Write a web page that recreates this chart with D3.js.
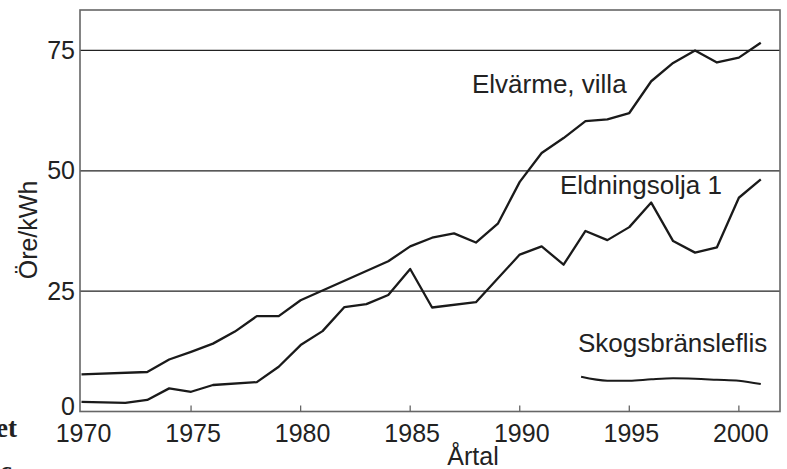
<!DOCTYPE html>
<html>
<head>
<meta charset="utf-8">
<script src="https://cdn.jsdelivr.net/npm/d3@7"></script>
<style>
  body { margin: 0; background: #fff; }
  svg text { font-family: "Liberation Sans", Arial, sans-serif; fill: #222; }
</style>
</head>
<body>
<div id="chart-area"></div>
<script>
// data (öre/kWh)
var elYears  = [1970, 1973, 1974, 1975, 1976, 1977, 1978, 1979, 1980, 1984, 1985, 1986, 1987, 1988, 1989, 1990, 1991, 1992, 1993, 1994, 1995, 1996, 1997, 1998, 1999, 2000, 2001];
var elValues = [7.7, 8.2, 10.8, 12.4, 14.1, 16.6, 19.8, 19.8, 23.1, 31.2, 34.3, 36.1, 37.0, 35.1, 39.0, 47.7, 53.7, 56.8, 60.3, 60.7, 62.0, 68.6, 72.4, 75.0, 72.5, 73.5, 76.6];

var oilYears  = [1970, 1972, 1973, 1974, 1975, 1976, 1978, 1979, 1980, 1981, 1982, 1983, 1984, 1985, 1986, 1988, 1990, 1991, 1992, 1993, 1994, 1995, 1996, 1997, 1998, 1999, 2000, 2001];
var oilValues = [2.0, 1.8, 2.4, 4.8, 4.1, 5.5, 6.1, 9.3, 13.8, 16.7, 21.7, 22.3, 24.2, 29.6, 21.6, 22.7, 32.6, 34.3, 30.5, 37.5, 35.6, 38.3, 43.4, 35.4, 33.0, 34.1, 44.4, 48.2];

var chipYears  = [1992.8, 1994, 1995, 1996, 1997, 1998, 1999, 2000, 2001];
var chipValues = [7.2, 6.4, 6.4, 6.7, 6.9, 6.8, 6.6, 6.4, 5.7];

var xTicks = [1970, 1975, 1980, 1985, 1990, 1995, 2000];
var yTicks = [0, 25, 50, 75];

var seriesNames = ["Elvärme, villa", "Eldningsolja 1", "Skogsbränsleflis"];

var W = 787, H = 469;
var plotL = 80, plotR = 780, plotT = 10, plotB = 411.5;

var svg = d3.select("#chart-area").append("svg")
  .attr("width", W)
  .attr("height", H);

var x = d3.scaleLinear().domain([1970, 2001.9]).range([81.5, 780.5]);
var y = d3.scaleLinear().domain([0, 83.4]).range([plotB, plotT]);

// gridlines
svg.selectAll(".grid")
  .data(yTicks.filter(d => d > 0))
  .enter().append("line")
  .attr("x1", plotL).attr("x2", plotR)
  .attr("y1", d => y(d)).attr("y2", d => y(d))
  .attr("stroke", "#222")
  .attr("stroke-width", 1.2);

// frame
svg.append("rect")
  .attr("x", plotL).attr("y", plotT)
  .attr("width", plotR - plotL).attr("height", plotB - plotT)
  .attr("fill", "none")
  .attr("stroke", "#666")
  .attr("stroke-width", 1.6);

// x ticks pointing inward
svg.selectAll(".xtick")
  .data(xTicks.filter(d => d > 1970))
  .enter().append("line")
  .attr("x1", d => x(d)).attr("x2", d => x(d))
  .attr("y1", plotB).attr("y2", plotB - 6)
  .attr("stroke", "#666")
  .attr("stroke-width", 1.3);

svg.selectAll(".xlab")
  .data(xTicks)
  .enter().append("text")
  .attr("x", d => x(d) + 2)
  .attr("y", 442)
  .attr("text-anchor", "middle")
  .attr("font-size", 25)
  .text(d => d);

// the 0 label sits a bit higher so it clears the year labels
svg.selectAll(".ylab")
  .data(yTicks)
  .enter().append("text")
  .attr("x", 75)
  .attr("y", d => y(d) + (d == 0 ? 3.5 : 8.5))
  .attr("text-anchor", "end")
  .attr("font-size", 25)
  .text(d => d);

svg.append("text")
  .attr("x", 473)
  .attr("y", 465)
  .attr("text-anchor", "middle")
  .attr("font-size", 25)
  .text("Årtal");

svg.append("text")
  .attr("transform", "translate(37,230) rotate(-90)")
  .attr("text-anchor", "middle")
  .attr("font-size", 25)
  .text("Öre/kWh");

// lines
var line = d3.line()
  .x(d => x(d[0]))
  .y(d => y(d[1]));

function drawSeries(years, values, width, curve) {
  var pts = years.map((yr, i) => [yr, values[i]]);
  svg.append("path")
    .datum(pts)
    .attr("d", line.curve(curve))
    .attr("fill", "none")
    .attr("stroke", "#1a1a1a")
    .attr("stroke-width", width)
    .attr("stroke-linejoin", "round");
}

drawSeries(elYears, elValues, 2.3, d3.curveLinear);
drawSeries(oilYears, oilValues, 2.3, d3.curveLinear);
drawSeries(chipYears, chipValues, 2, d3.curveMonotoneX);

// series labels
svg.append("text").attr("x", 472).attr("y", 93).attr("font-size", 26).text(seriesNames[0]);
svg.append("text").attr("x", 560).attr("y", 194).attr("font-size", 26).text(seriesNames[1]);
svg.append("text").attr("x", 578).attr("y", 352).attr("font-size", 26).text(seriesNames[2]);

// clipped text from the page the chart was cut out of
svg.append("text")
  .attr("x", -4).attr("y", 437)
  .attr("font-size", 27)
  .attr("font-weight", "bold")
  .style("font-family", "'Liberation Serif', serif")
  .text("et");
svg.append("text")
  .attr("x", 0).attr("y", 480)
  .attr("font-size", 27)
  .attr("font-weight", "bold")
  .style("font-family", "'Liberation Serif', serif")
  .text("c");
</script>
</body>
</html>
